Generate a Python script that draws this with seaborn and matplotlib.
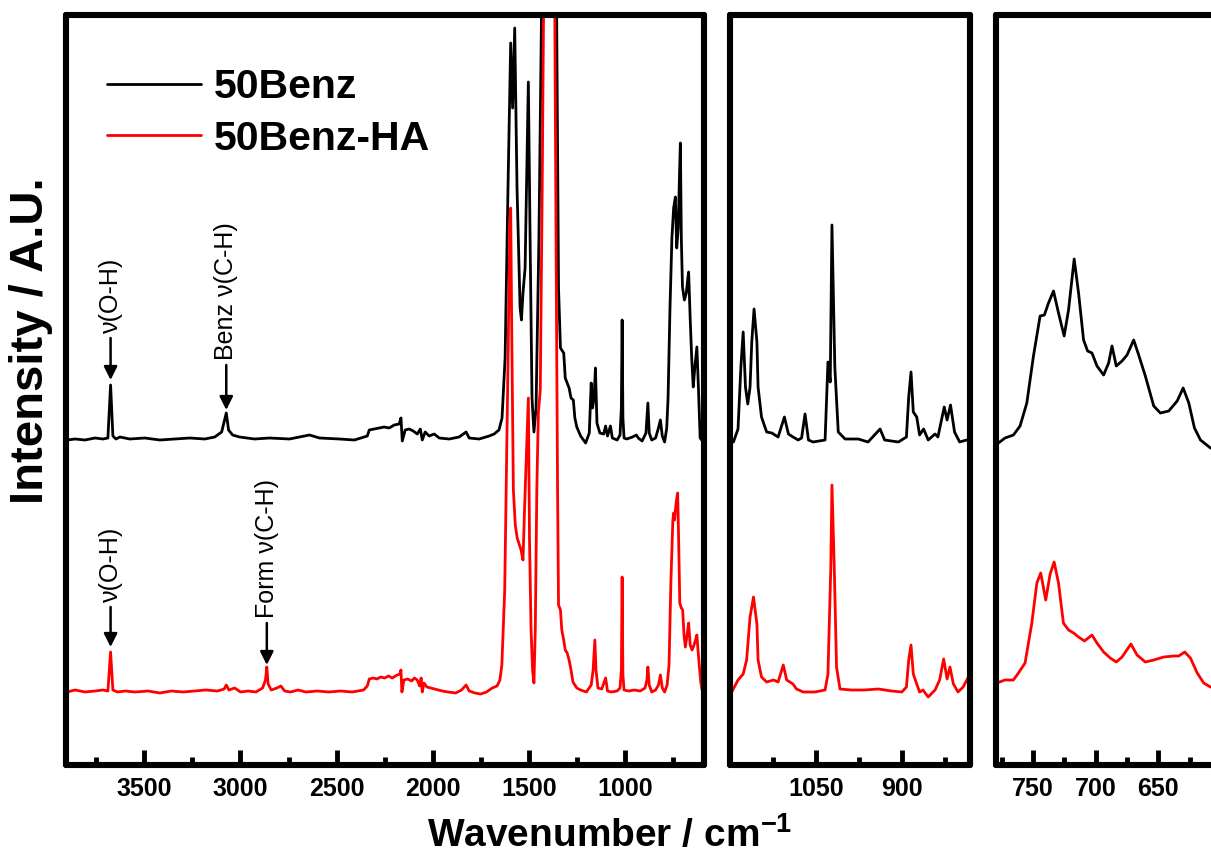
import pandas as pd
import seaborn as sns
import matplotlib.pyplot as plt

# spectra: (wavenumber / cm-1, intensity above baseline)
# panel 1: full range
benz_full = [(3902, -2), (3861, -1), (3809, -2), (3757, 0), (3716, -1), (3690, 0), (3676, 53), (3664, 2),
             (3648, -1), (3628, 1), (3576, -1), (3498, 0), (3420, -2), (3342, -1), (3264, 0), (3186, -1),
             (3134, 1), (3098, 6), (3074, 25), (3062, 8), (3041, 3), (3005, 1), (2927, -1), (2849, 0),
             (2745, -1), (2667, 2), (2641, 3), (2589, 0), (2485, -1), (2407, -2), (2340, 2), (2330, 8),
             (2304, 9), (2278, 10), (2252, 11), (2226, 10), (2200, 13), (2174, 14), (2165, 20), (2158, -3),
             (2143, 8), (2122, 9), (2101, 7), (2080, 4), (2064, 9), (2054, -2), (2039, 6), (2018, 2),
             (1992, 4), (1966, 0), (1914, -1), (1862, 1), (1826, 6), (1810, 0), (1758, -1), (1706, 2),
             (1680, 4), (1655, 8), (1639, 20), (1623, 80), (1608, 250), (1594, 395), (1584, 330), (1573, 410),
             (1561, 250), (1545, 130), (1538, 118), (1530, 145), (1519, 170), (1502, 356), (1493, 200),
             (1483, 40), (1473, 6), (1462, 30), (1447, 200), (1432, 450), (1420, 600), (1400, 650),
             (1380, 650), (1365, 600), (1355, 430), (1345, 150), (1335, 90), (1318, 85), (1310, 60),
             (1300, 55), (1290, 50), (1280, 40), (1268, 38), (1260, 20), (1250, 11), (1230, 2), (1204, -5),
             (1185, 5), (1175, 55), (1168, 30), (1160, 40), (1153, 70), (1145, 15), (1130, 5), (1110, 4),
             (1100, 12), (1090, 2), (1075, 12), (1065, 0), (1040, -2), (1025, 3), (1018, 30), (1014, 118),
             (1010, 20), (1004, 0), (990, -1), (960, 1), (940, 3), (930, 0), (910, -3), (890, 5), (880, 35),
             (873, 5), (860, -2), (840, 0), (825, 10), (815, 18), (805, 2), (793, -4), (782, 10), (775, 40),
             (765, 130), (755, 200), (746, 230), (737, 241), (730, 190), (722, 210), (716, 260), (711, 295),
             (706, 200), (700, 151), (690, 138), (680, 145), (672, 160), (668, 166), (660, 120), (652, 80),
             (644, 51), (636, 70), (625, 91), (617, 50), (608, 0), (600, -2)]

benz_ha_full = [(3902, -2), (3861, 0), (3809, -2), (3757, -1), (3716, 0), (3690, -1), (3676, 38), (3664, 0),
                (3640, -2), (3600, -1), (3550, -2), (3480, -1), (3420, -3), (3360, -1), (3300, -2), (3240, -1),
                (3180, 0), (3120, -1), (3085, 1), (3074, 5), (3060, 0), (3030, 2), (3000, -2), (2960, -1),
                (2920, -2), (2885, 2), (2870, 10), (2863, 23), (2856, 6), (2840, 0), (2810, 2), (2790, 4),
                (2770, -1), (2740, -2), (2700, 0), (2660, -2), (2600, -1), (2540, -2), (2480, -1), (2420, -2),
                (2360, 0), (2340, 4), (2330, 11), (2310, 12), (2290, 11), (2270, 13), (2250, 12), (2230, 14),
                (2210, 12), (2185, 15), (2170, 16), (2165, 20), (2160, -2), (2150, 10), (2130, 11), (2110, 9),
                (2095, 12), (2080, 10), (2068, 4), (2060, 12), (2054, -2), (2045, 7), (2030, 3), (2010, 2),
                (1990, 1), (1970, 0), (1950, -1), (1920, -2), (1880, -3), (1850, 0), (1826, 5), (1810, -1),
                (1780, -3), (1750, -4), (1720, -2), (1690, 2), (1665, 4), (1650, 10), (1640, 25), (1625, 100),
                (1610, 300), (1598, 470), (1594, 482), (1588, 350), (1580, 200), (1570, 165), (1560, 152),
                (1548, 145), (1540, 140), (1530, 130), (1522, 180), (1508, 260), (1502, 292), (1496, 150),
                (1488, 60), (1480, 20), (1473, 7), (1466, 60), (1458, 200), (1450, 277), (1440, 300),
                (1430, 500), (1420, 750), (1408, 900), (1392, 700), (1375, 900), (1365, 700), (1357, 420),
                (1350, 200), (1345, 85), (1335, 80), (1328, 60), (1318, 50), (1310, 40), (1300, 37), (1290, 30),
                (1280, 20), (1270, 8), (1250, 2), (1230, 0), (1200, -2), (1175, 5), (1165, 20), (1156, 50),
                (1150, 20), (1140, 2), (1120, 1), (1100, 12), (1090, -1), (1070, -2), (1040, -1), (1025, 2),
                (1018, 20), (1014, 113), (1010, 15), (1004, 0), (980, -1), (950, 0), (920, -1), (895, 2),
                (885, 10), (880, 23), (873, 5), (860, -2), (840, 0), (825, 5), (815, 15), (805, 2), (793, -2),
                (780, 5), (770, 25), (760, 110), (750, 170), (746, 177), (741, 170), (737, 180), (731, 190),
                (725, 197), (720, 150), (714, 87), (706, 82), (699, 80), (692, 55), (685, 43), (676, 55),
                (668, 67), (660, 45), (650, 40), (640, 45), (632, 50), (625, 55), (615, 30), (605, 8), (598, 0)]

# panel 2: 1200-780 cm-1
benz_mid = [(1194, 0), (1186, 13), (1181, 75), (1177, 110), (1173, 55), (1169, 38), (1165, 55), (1162, 100),
            (1158, 133), (1153, 100), (1151, 55), (1145, 25), (1136, 10), (1127, 9), (1116, 5), (1105, 25),
            (1098, 8), (1090, 5), (1081, 2), (1075, 4), (1069, 28), (1063, 2), (1055, 0), (1034, 2),
            (1029, 80), (1025, 60), (1022, 217), (1017, 75), (1011, 10), (999, 3), (976, 3), (959, 0),
            (938, 13), (930, 2), (906, 0), (892, 5), (888, 45), (884, 70), (880, 30), (874, 25), (869, 7),
            (862, 13), (854, 2), (842, 8), (837, 5), (826, 35), (821, 22), (815, 37), (808, 10), (799, 0),
            (787, 2)]

benz_ha_mid = [(1197, 0), (1186, 12), (1177, 18), (1171, 32), (1165, 75), (1159, 95), (1153, 68), (1151, 32),
               (1145, 15), (1136, 10), (1124, 12), (1116, 10), (1107, 27), (1101, 12), (1090, 8), (1084, 3),
               (1072, 0), (1052, 0), (1034, 2), (1029, 18), (1024, 125), (1022, 207), (1018, 125), (1014, 25),
               (1008, 3), (988, 2), (965, 2), (941, 3), (918, 1), (900, 0), (892, 5), (888, 32), (884, 47),
               (880, 18), (874, 8), (869, 0), (863, 2), (854, -5), (842, 2), (834, 12), (827, 33), (821, 13),
               (816, 25), (810, 8), (802, 0), (793, 5), (781, 18)]

# panel 3: 780-600 cm-1
benz_low = [(777.7, 0), (772.4, 5), (765.7, 8), (760.4, 17), (755, 40), (749.7, 87), (744.4, 127), (741, 128),
            (737.7, 140), (733.7, 152), (729.7, 130), (725.2, 107), (721.7, 133), (717.2, 184), (713.7, 150),
            (709.7, 103), (706.5, 92), (703, 90), (699, 77), (693.7, 68), (689.7, 80), (687, 97), (683.6, 77),
            (679, 82), (675, 88), (669.7, 103), (665.7, 88), (660.4, 67), (653.7, 37), (648.4, 30),
            (641.7, 32), (635, 42), (630.2, 55), (625.7, 40), (621.2, 15), (616.4, 3), (608.4, -5), (600, -8)]

benz_ha_low = [(779, 0), (772.4, 3), (765.7, 3), (761.7, 10), (756.4, 20), (751, 60), (747, 100), (743.9, 110),
               (739.9, 83), (736.4, 109), (733.2, 121), (729.7, 100), (725.8, 60), (721.7, 53), (717.7, 50),
               (713.7, 46), (709, 42), (703, 48), (699, 40), (693.7, 31), (688.4, 25), (683.6, 21), (679, 26),
               (671.9, 39), (667, 28), (660.4, 21), (653.7, 23), (645.7, 26), (637.7, 27), (633.7, 27),
               (629, 31), (624.4, 25), (619, 10), (613.8, 0), (608.4, -4), (600, -6)]

# vertical stacking offsets (black, red) for each panel
offsets = [(327, 75), (323, 73), (322, 82)]

sns.set_theme(style='white')
plt.rcParams['font.family'] = ['Liberation Sans', 'DejaVu Sans']
plt.rcParams['mathtext.fontset'] = 'custom'
plt.rcParams['mathtext.rm'] = 'Liberation Sans'
plt.rcParams['mathtext.bf'] = 'Liberation Sans:bold'
plt.rcParams['text.color'] = 'black'
plt.rcParams['xtick.color'] = 'black'
plt.rcParams['xtick.labelcolor'] = 'black'

W, H = 1211, 857
fig = plt.figure(figsize=(W / 100, H / 100), dpi=100)
bottom, height = 1 - 765 / H, 750 / H
ax1 = fig.add_axes([66 / W, bottom, 638 / W, height])
ax2 = fig.add_axes([730 / W, bottom, 240 / W, height])
ax3 = fig.add_axes([996 / W, bottom, 225 / W, height])

panels = [
    (ax1, benz_full, benz_ha_full, (3908, 588), [3500, 3000, 2500, 2000, 1500, 1000],
     [3750, 3250, 2750, 2250, 1750, 1250, 750]),
    (ax2, benz_mid, benz_ha_mid, (1200, 781), [1050, 900], [1125, 975, 825]),
    (ax3, benz_low, benz_ha_low, (779.6, 600), [750, 700, 650], [775, 725, 675, 625]),
]

for i, (ax, black, red, xlim, major, minor) in enumerate(panels):
    off_b, off_r = offsets[i]
    db = pd.DataFrame(black, columns=['wn', 'h'])
    dr = pd.DataFrame(red, columns=['wn', 'h'])
    db['y'] = db['h'] + off_b
    dr['y'] = dr['h'] + off_r
    sns.lineplot(data=db, x='wn', y='y', ax=ax, color='black', lw=2.0, sort=False,
                 estimator=None, label='50Benz' if i == 0 else None, legend=(i == 0))
    sns.lineplot(data=dr, x='wn', y='y', ax=ax, color='#ff0000', lw=2.0, sort=False,
                 estimator=None, label='50Benz-HA' if i == 0 else None, legend=(i == 0))
    ax.set_xlim(xlim)
    ax.set_ylim(0, 750)
    ax.set_yticks([])
    ax.set_xticks(major)
    ax.set_xticks(minor, minor=True)
    ax.set_xlabel('')
    ax.set_ylabel('')
    ax.tick_params(axis='x', which='both', direction='in', bottom=True, top=False, color='black')
    ax.tick_params(axis='x', which='major', length=11, width=3.5, labelsize=18, pad=9,
                   labelcolor='black')
    ax.tick_params(axis='x', which='minor', length=6, width=3.5)
    for lab in ax.get_xticklabels():
        lab.set_fontweight('bold')
    for sp in ax.spines.values():
        sp.set_visible(True)
        sp.set_linewidth(4.4)
        sp.set_color('black')
        sp.set_capstyle('round')
        sp.set_joinstyle('round')

leg = ax1.legend(loc='upper left', bbox_to_anchor=(0.064, 0.929), frameon=False, borderpad=0,
                 borderaxespad=0, handlelength=2.3, handletextpad=0.3, labelspacing=0.33,
                 prop={'weight': 'bold', 'size': 29.5})
for t in leg.get_texts():
    t.set_color('black')

# peak labels with arrows (wavenumber, arrow tip, arrow start, label)
notes = [(3676, 385, 427, 'ν(O-H)'), (3074, 355, 400, 'Benz ν(C-H)'),
         (3676, 118, 158, 'ν(O-H)'), (2863, 100, 142, 'Form ν(C-H)')]
for wn, tip, start, txt in notes:
    ax1.annotate('', xy=(wn, tip), xytext=(wn, start),
                 arrowprops=dict(arrowstyle='-|>', color='black', lw=1.8, mutation_scale=20,
                                 shrinkA=0, shrinkB=0))
    ax1.text(wn, start + 5, txt, rotation=90, ha='center', va='bottom', fontsize=18, color='black')

fig.text(610 / W, 1 - 847 / H, 'Wavenumber / cm$^{\\mathbf{-1}}$', ha='center', va='baseline',
         fontsize=28, fontweight='bold')
fig.text(31 / W, 1 - 341 / H, 'Intensity / A.U.', rotation=90, ha='center', va='center',
         fontsize=34, fontweight='bold')

fig.savefig('out.png', dpi=100)
